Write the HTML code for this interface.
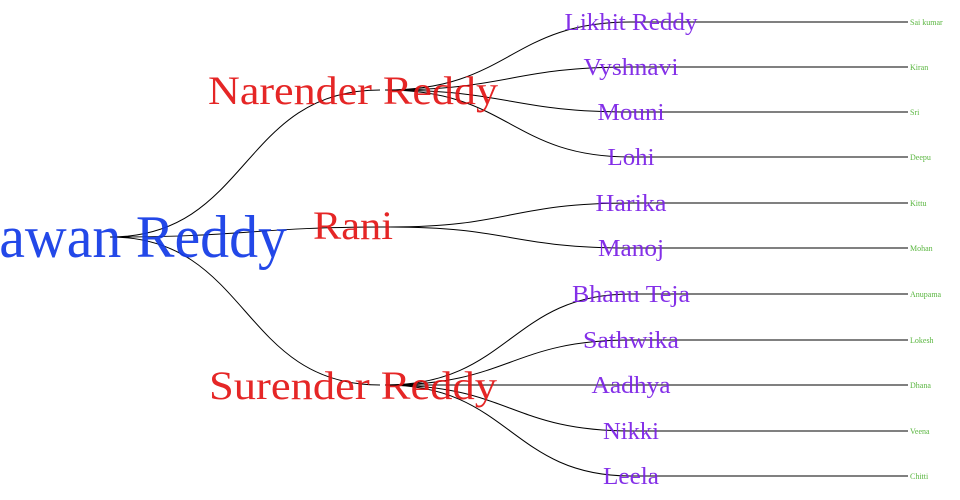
<!DOCTYPE html>
<html><head><meta charset="utf-8"><style>
html,body{margin:0;padding:0;background:#fff;}
svg{display:block;}
text{font-family:"Liberation Serif",serif;}
</style></head><body>
<svg width="960" height="500" viewBox="0 0 960 500" xmlns="http://www.w3.org/2000/svg">
<g fill="none" stroke="#000" stroke-width="1">
<path d="M110,237 C250,237 240,90 380,90"/>
<path d="M110,237 C250,237 250,227 390,227"/>
<path d="M110,237 C250,237 240,385 380,385"/>
<path d="M385,90 C510,90 510,22 631,22"/>
<path d="M385,90 C510,90 510,67 631,67"/>
<path d="M385,90 C510,90 510,112 631,112"/>
<path d="M385,90 C510,90 510,157 631,157"/>
<path d="M390,227 C510,227 510,203 631,203"/>
<path d="M390,227 C510,227 510,248 631,248"/>
<path d="M385,385 C510,385 510,294 631,294"/>
<path d="M385,385 C510,385 510,340 631,340"/>
<path d="M385,385 C510,385 510,385 631,385"/>
<path d="M385,385 C510,385 510,431 631,431"/>
<path d="M385,385 C510,385 510,476 631,476"/>
<path d="M631,22H908M631,67H908M631,112H908M631,157H908M631,203H908M631,248H908M631,294H908M631,340H908M631,385H908M631,431H908M631,476H908"/>
</g>
<g fill-opacity="0.92">
<text x="287" y="257" text-anchor="end" font-size="60" fill="#1038e6" textLength="320" lengthAdjust="spacingAndGlyphs">Pawan Reddy</text>
<g font-size="40" fill="#e31414" text-anchor="middle">
<text x="353" y="104" textLength="290" lengthAdjust="spacingAndGlyphs">Narender Reddy</text>
<text x="353" y="239" textLength="80" lengthAdjust="spacingAndGlyphs">Rani</text>
<text x="353" y="399" textLength="288" lengthAdjust="spacingAndGlyphs">Surender Reddy</text>
</g>
<g font-size="24" fill="#7a1ee6" text-anchor="middle">
<text x="631" y="30" textLength="133" lengthAdjust="spacingAndGlyphs">Likhit Reddy</text>
<text x="631" y="75" textLength="95" lengthAdjust="spacingAndGlyphs">Vyshnavi</text>
<text x="631" y="120" textLength="67" lengthAdjust="spacingAndGlyphs">Mouni</text>
<text x="631" y="165" textLength="47" lengthAdjust="spacingAndGlyphs">Lohi</text>
<text x="631" y="211" textLength="71" lengthAdjust="spacingAndGlyphs">Harika</text>
<text x="631" y="256" textLength="66" lengthAdjust="spacingAndGlyphs">Manoj</text>
<text x="631" y="302" textLength="118" lengthAdjust="spacingAndGlyphs">Bhanu Teja</text>
<text x="631" y="348" textLength="96" lengthAdjust="spacingAndGlyphs">Sathwika</text>
<text x="631" y="393" textLength="79" lengthAdjust="spacingAndGlyphs">Aadhya</text>
<text x="631" y="439" textLength="56" lengthAdjust="spacingAndGlyphs">Nikki</text>
<text x="631" y="484" textLength="56" lengthAdjust="spacingAndGlyphs">Leela</text>
</g>
<g font-size="8" fill="#4cb030">
<text x="910" y="25">Sai kumar</text>
<text x="910" y="70">Kiran</text>
<text x="910" y="115">Sri</text>
<text x="910" y="160">Deepu</text>
<text x="910" y="206">Kittu</text>
<text x="910" y="251">Mohan</text>
<text x="910" y="297">Anupama</text>
<text x="910" y="343">Lokesh</text>
<text x="910" y="388">Dhana</text>
<text x="910" y="434">Veena</text>
<text x="910" y="479">Chitti</text>
</g>
</g>
</svg>
</body></html>
